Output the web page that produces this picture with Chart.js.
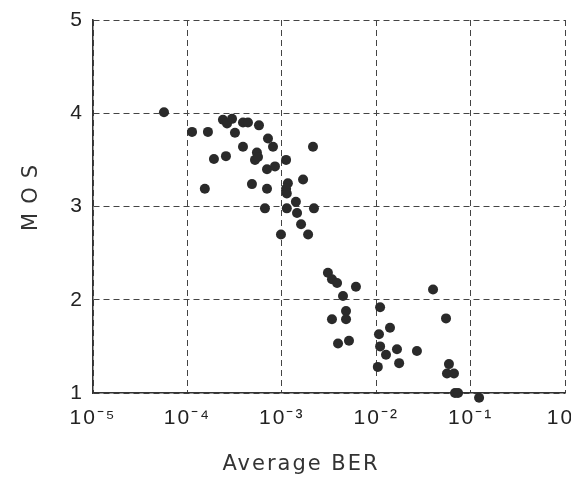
<!DOCTYPE html>
<html>
<head>
<meta charset="utf-8">
<script src="https://cdn.jsdelivr.net/npm/chart.js@4/dist/chart.umd.min.js"></script>
<style>
  html, body { margin: 0; padding: 0; background: #fff; }
  #wrap { width: 571px; height: 480px; }
</style>
</head>
<body>
<div id="wrap"><canvas id="mosChart" width="571" height="480"></canvas></div>
<script>
// average bit error rate per test condition
const berValues = [
    5.65e-5, 2.38e-4, 2.63e-4, 2.97e-4, 3.88e-4, 4.38e-4, 5.73e-4, 1.12e-4,
    1.65e-4, 3.19e-4, 7.14e-4, 8.07e-4, 2.14e-3, 3.88e-4, 5.45e-4, 1.91e-4,
    2.56e-4, 5.2e-4, 5.6e-4, 1.11e-3, 6.97e-4, 8.47e-4, 1.68e-3, 4.83e-4,
    6.97e-4, 1.16e-3, 1.11e-3, 1.13e-3, 1.53e-4, 1.41e-3, 6.63e-4, 1.13e-3,
    2.19e-3, 1.45e-3, 1.6e-3, 1.9e-3, 9.8e-4, 3.08e-3, 3.4e-3, 3.85e-3,
    6.1e-3, 4.45e-3, 4.0e-2, 1.1e-2, 4.79e-3, 4.79e-3, 3.4e-3, 5.49e-2,
    1.4e-2, 1.07e-2, 5.15e-3, 3.94e-3, 1.1e-2, 1.66e-2, 2.7e-2, 1.27e-2,
    1.75e-2, 1.04e-2, 5.9e-2, 5.62e-2, 6.67e-2, 6.84e-2, 7.36e-2, 1.23e-1
];
// mean opinion score for the same conditions
const mosValues = [
    4.01, 3.93, 3.89, 3.94, 3.90, 3.90, 3.87, 3.80,
    3.80, 3.79, 3.73, 3.64, 3.64, 3.64, 3.58, 3.51,
    3.54, 3.50, 3.53, 3.50, 3.40, 3.43, 3.29, 3.24,
    3.19, 3.25, 3.19, 3.14, 3.19, 3.05, 2.98, 2.98,
    2.98, 2.93, 2.81, 2.70, 2.70, 2.29, 2.22, 2.18,
    2.14, 2.04, 2.11, 1.92, 1.88, 1.79, 1.79, 1.80,
    1.70, 1.63, 1.56, 1.53, 1.50, 1.47, 1.45, 1.41,
    1.32, 1.28, 1.31, 1.21, 1.21, 1.00, 1.00, 0.95
];
const xTickValues = [1e-5, 1e-4, 1e-3, 1e-2, 1e-1, 1];
const xTickLabels = ['10\u207B\u2075', '10\u207B\u2074', '10\u207B\u00B3', '10\u207B\u00B2', '10\u207B\u00B9', '10\u2070'];
const yTickValues = [1, 2, 3, 4, 5];

const points = berValues.map((b, i) => ({ x: b, y: mosValues[i] }));

// axis titles drawn by hand so the letters can be spread like the original
const axisTitlePlugin = {
    id: 'axisTitles',
    beforeDraw(chart) {
        chart.ctx.letterSpacing = '2px';
    },
    afterDraw(chart) {
        const ctx = chart.ctx;
        const area = chart.chartArea;
        ctx.save();
        ctx.fillStyle = '#333';
        ctx.textAlign = 'center';
        ctx.textBaseline = 'middle';

        ctx.letterSpacing = '2px';
        ctx.font = '21px "DejaVu Sans"';
        ctx.fillText('Average BER', 301, 465);

        ctx.letterSpacing = '9px';
        ctx.font = '21px "DejaVu Sans"';
        ctx.translate(32, area.top + 178);
        ctx.rotate(-Math.PI / 2);
        ctx.fillText('MOS', 4.5, 0);
        ctx.restore();
    }
};

const gridStyle = {
    color: '#444',
    lineWidth: 1,
    drawTicks: false
};

new Chart(document.getElementById('mosChart'), {
    type: 'scatter',
    data: {
        datasets: [{
            label: 'MOS',
            data: points,
            backgroundColor: '#2a2a2a',
            borderWidth: 0,
            pointRadius: 5,
            clip: false
        }]
    },
    options: {
        responsive: false,
        animation: false,
        layout: { padding: { left: 0, right: 6, top: 20, bottom: 0 } },
        plugins: {
            legend: { display: false },
            tooltip: { enabled: false }
        },
        scales: {
            x: {
                type: 'logarithmic',
                min: 1e-5,
                max: 1,
                afterBuildTicks: (scale) => {
                    scale.ticks = xTickValues.map(v => ({ value: v }));
                },
                afterFit: (scale) => {
                    scale.height = 87;
                    scale.paddingLeft = 0;
                    scale.paddingRight = 0;
                },
                ticks: {
                    autoSkip: false,
                    maxRotation: 0,
                    padding: 13,
                    color: '#222',
                    font: { family: '"Liberation Sans", Arial', size: 21 },
                    callback: (v) => {
                        const i = xTickValues.indexOf(v);
                        return i >= 0 ? xTickLabels[i] : '';
                    }
                },
                grid: gridStyle,
                border: { color: '#333', width: 1.5, dash: [6, 4] }
            },
            y: {
                min: 1,
                max: 5,
                afterBuildTicks: (scale) => {
                    scale.ticks = yTickValues.map(v => ({ value: v }));
                },
                afterFit: (scale) => {
                    scale.width = 93;
                    scale.paddingTop = 0;
                    scale.paddingBottom = 0;
                },
                ticks: {
                    padding: 9,
                    color: '#222',
                    font: { family: '"Liberation Sans", Arial', size: 21 }
                },
                grid: gridStyle,
                border: { color: '#333', width: 1.5, dash: [6, 4] }
            }
        }
    },
    plugins: [axisTitlePlugin]
});
</script>
</body>
</html>
